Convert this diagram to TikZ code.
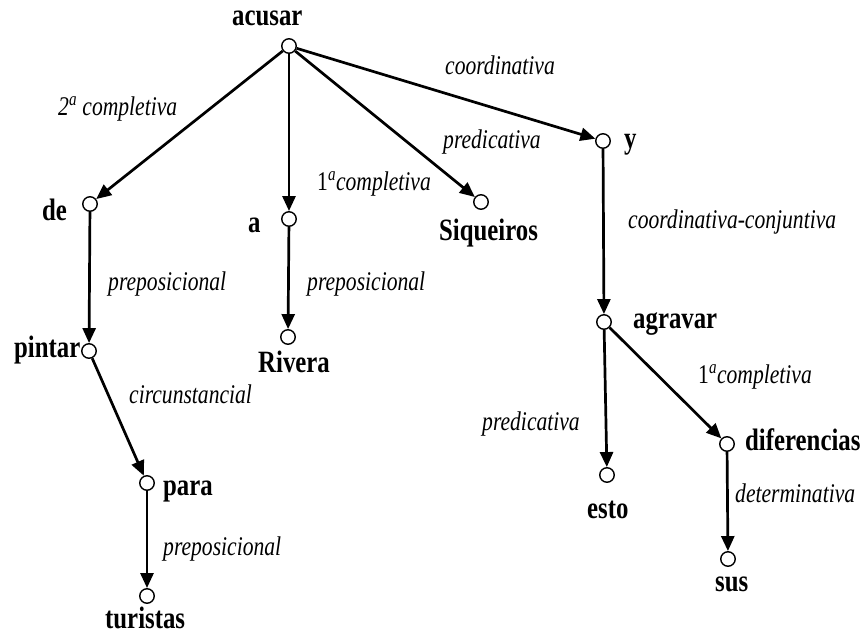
\documentclass[tikz,border=0pt]{standalone}
\usepackage{fontspec}
\usetikzlibrary{arrows.meta}
\newfontfamily\wordface{Liberation Serif}[FakeStretch=0.8]
\newfontfamily\relface{Liberation Serif}[FakeStretch=0.8]
\newcommand{\wordfont}{\wordface\bfseries\fontsize{31}{32}\selectfont}
\newcommand{\relfont}{\relface\itshape\fontsize{27}{28}\selectfont}
\begin{document}
\begin{tikzpicture}[x=1pt,y=-1pt,
  vtx/.style={circle, draw, line width=1.4pt, minimum size=14.5pt, inner sep=0pt},
  word/.style={font=\wordfont, anchor=base west, inner sep=0pt},
  rel/.style={font=\relfont, anchor=base west, inner sep=0pt},
  dep/.style={line width=2.7pt, -{Triangle[length=15pt,width=13pt]}}]
\useasboundingbox (0,0) rectangle (860,634);

% vertices
\node[vtx] (acusar) at (289,46) {};
\node[vtx] (de) at (90,204) {};
\node[vtx] (a) at (289,219) {};
\node[vtx] (siq) at (481,202) {};
\node[vtx] (y) at (603,141) {};
\node[vtx] (agravar) at (604,322) {};
\node[vtx] (pintar) at (89,351) {};
\node[vtx] (rivera) at (288,337) {};
\node[vtx] (para) at (147,483) {};
\node[vtx] (turistas) at (147,596) {};
\node[vtx] (esto) at (607,475) {};
\node[vtx] (dif) at (727,444) {};
\node[vtx] (sus) at (728,559) {};

% words
\node[word] (w-acusar) at (232,26) {acusar};
\node[word] (w-de) at (42,220) {de};
\node[word] (w-a) at (248,232) {a};
\node[word] (w-siq) at (439,240) {Siqueiros};
\node[word] (w-y) at (624,148) {y};
\node[word] (w-agravar) at (633,328) {agravar};
\node[word] (w-pintar) at (14,357) {pintar};
\node[word] (w-rivera) at (258,372) {Rivera};
\node[word] (w-para) at (163,495) {para};
\node[word] (w-turistas) at (105,628) {turistas};
\node[word] (w-esto) at (587,518) {esto};
\node[word] (w-dif) at (745,450) {diferencias};
\node[word] (w-sus) at (715,591) {sus};

% relation labels
\node[rel] (r1) at (58,115) {2\textsuperscript{a} completiva};
\node[rel] (r2) at (445,75) {coordinativa};
\node[rel] (r3) at (443,148) {predicativa};
\node[rel] (r4) at (317,190) {{\upshape 1}\textsuperscript{a}completiva};
\node[rel] (r5) at (628,228) {coordinativa-conjuntiva};
\node[rel] (r6) at (108,290) {preposicional};
\node[rel] (r7) at (307,290) {preposicional};
\node[rel] (r8) at (129,403) {circunstancial};
\node[rel] (r9) at (163,555) {preposicional};
\node[rel] (r10) at (698,383) {{\upshape 1}\textsuperscript{a}completiva};
\node[rel] (r11) at (482,430) {predicativa};
\node[rel] (r12) at (735,502) {determinativa};

% dependencies
\draw[dep] (acusar) -- (de);
\draw[dep] (acusar) -- (a);
\draw[dep] (acusar) -- (siq);
\draw[dep] (acusar) -- (y);
\draw[dep] (de) -- (pintar);
\draw[dep] (a) -- (rivera);
\draw[dep] (pintar) -- (para);
\draw[dep] (para) -- (turistas);
\draw[dep] (y) -- (agravar);
\draw[dep] (agravar) -- (esto);
\draw[dep] (agravar) -- (dif);
\draw[dep] (dif) -- (sus);
\end{tikzpicture}
\end{document}
